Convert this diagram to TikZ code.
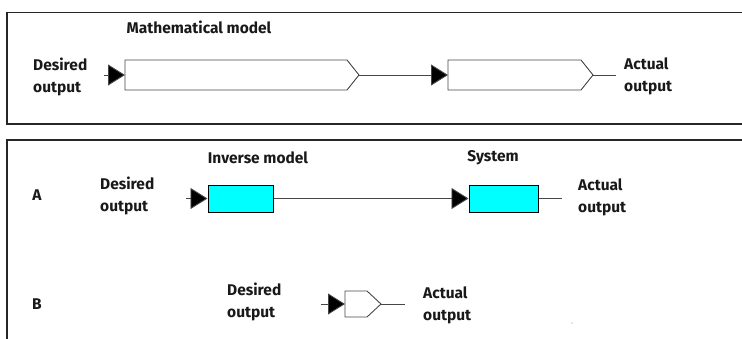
\documentclass[tikz,border=0pt]{standalone}
\usepackage{fontspec}
\setmainfont{Fira Sans}
\usetikzlibrary{arrows.meta,calc}
\definecolor{boxcyan}{RGB}{0,255,255}
\definecolor{linegray}{RGB}{70,70,70}
\begin{document}
\begin{tikzpicture}[x=1pt,y=-1pt,
  lbl/.style={font=\fontsize{15.5}{22}\selectfont\bfseries, inner sep=0pt, align=left, text=black!90},
  frameline/.style={draw=black!85, line width=1.2pt},
  arr/.style={draw=linegray, line width=0.9pt, -{Triangle[length=17pt,width=21pt,fill=black]}},
  plain/.style={draw=linegray, line width=0.9pt},
  hidden/.style={inner sep=0pt, outer sep=0pt},
  cyanbox/.style={draw=black, line width=1pt, fill=boxcyan, inner sep=0pt}
]
\useasboundingbox (0,0) rectangle (742,338);
% frames
\draw[frameline] (746,12.5) -- (7,12.5) -- (7,124) -- (746,124);
\draw[frameline] (746,140) -- (7,140) -- (7,342);

% ---- top: mathematical model
\node[lbl] (mmlabel) at (199,27) {Mathematical model};
\node[lbl, anchor=west] (des1) at (33,77) {Desired\\output};
\node[hidden, minimum width=234pt, minimum height=30pt] (m1) at (242,75) {};
\node[hidden, minimum width=145pt, minimum height=30pt] (m2) at (520.5,75) {};
\draw[plain] (m1.north west) -- ($(m1.north east)+(-12,0)$) -- (m1.east) -- ($(m1.south east)+(-12,0)$) -- (m1.south west) -- cycle;
\draw[plain] (m2.north west) -- ($(m2.north east)+(-12,0)$) -- (m2.east) -- ($(m2.south east)+(-12,0)$) -- (m2.south west) -- cycle;
\coordinate (in1) at (104,75);
\coordinate (out1) at (616,75);
\draw[arr] (in1) -- (m1.west);
\draw[arr] (m1.east) -- (m2.west);
\draw[plain] (m2.east) -- (out1);
\node[lbl, anchor=west] (act1) at (624,76) {Actual\\output};

% ---- bottom A
\node[lbl] (invlabel) at (258,158) {Inverse model};
\node[lbl] (syslabel) at (493,158) {System};
\node[lbl] (A) at (37,195) {A};
\node[lbl, anchor=west] (desA) at (100,196) {Desired\\output};
\node[cyanbox, minimum width=65pt, minimum height=27pt] (inv) at (240.5,198.5) {};
\node[cyanbox, minimum width=69pt, minimum height=27pt] (sys) at (503.5,198.5) {};
\coordinate (inA) at (186,198.5);
\coordinate (outA) at (562,198.5);
\draw[arr] (inA) -- (inv.west);
\draw[arr] (inv.east) -- (sys.west);
\draw[plain] (sys.east) -- (outA);
\node[lbl, anchor=west] (actA) at (578,197) {Actual\\output};

% ---- bottom B
\node[lbl] (B) at (37,304) {B};
\node[lbl, anchor=west] (desB) at (227,302) {Desired\\output};
\node[hidden, minimum width=36pt, minimum height=26pt] (pb) at (363,304) {};
\draw[plain] (pb.north west) -- ($(pb.north east)+(-14,0)$) -- (pb.east) -- ($(pb.south east)+(-14,0)$) -- (pb.south west) -- cycle;
\coordinate (inB) at (321,304);
\coordinate (outB) at (405,304);
\draw[arr] (inB) -- (pb.west);
\draw[plain] (pb.east) -- (outB);
\node[lbl, anchor=west] (actB) at (423,305) {Actual\\output};
\fill[red!60] (572,323) circle (0.7pt);
\end{tikzpicture}
\end{document}
